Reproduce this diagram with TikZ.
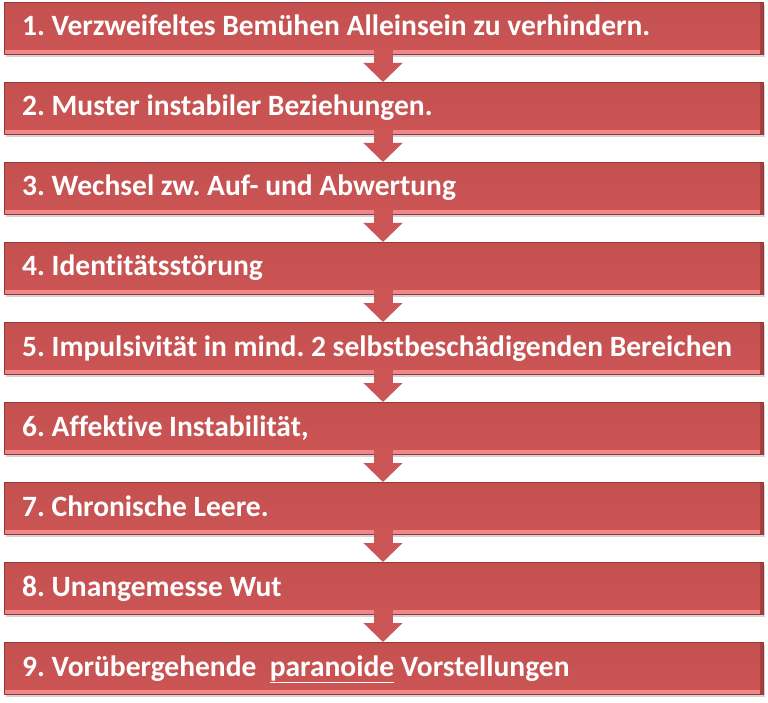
\documentclass[tikz,border=0pt]{standalone}
\usepackage{fontspec}
\setmainfont[Ligatures=NoCommon]{Carlito}
\usepackage{tikz}
\usetikzlibrary{arrows.meta,shadows}

\definecolor{barred}{RGB}{204,85,85}
\definecolor{bartop}{RGB}{196,80,80}
\definecolor{barlight}{RGB}{242,135,135}
\definecolor{bardark}{RGB}{150,55,55}

\begin{document}
\frenchspacing
\begin{tikzpicture}[x=1pt,y=-1pt]
   \useasboundingbox (0,0) rectangle (768,703);
   \tikzstyle{bar}=[rectangle, minimum width=759pt, minimum height=52pt, anchor=north west, inner sep=0pt,
      top color=bartop, bottom color=barred, draw=bardark, line width=0.6pt,
      drop shadow={shadow xshift=1.5pt, shadow yshift=-2.5pt, opacity=0.35},
      path picture={
        \fill[barlight] ([yshift=4pt]path picture bounding box.south west) rectangle (path picture bounding box.south east);
        \fill[bardark!70!barred] ([xshift=-3pt]path picture bounding box.north east) rectangle (path picture bounding box.south east);
      }]
   \tikzstyle{label}=[anchor=base west, text=white, font=\fontsize{29.5}{34}\selectfont\bfseries, inner sep=0pt]
   \tikzstyle{down}=[line width=19pt, draw=barred, -{Triangle[width=38pt,length=19pt]}, shorten <=-7pt]
   \foreach \i/\txt in {1/{1. Verzweifeltes Bemühen Alleinsein zu verhindern.},
                        2/{2. Muster instabiler Beziehungen.},
                        3/{3. Wechsel zw. Auf- und Abwertung},
                        4/{4. Identitätsstörung},
                        5/{5. Impulsivität in mind. 2 selbstbeschädigenden Bereichen},
                        6/{6. Affektive Instabilität,},
                        7/{7. Chronische Leere.},
                        8/{8. Unangemesse Wut},
                        9/{9. Vorübergehende\ \ \underline{paranoide} Vorstellungen}} {
       \node[bar] (bar\i) at (4,{2+80*(\i-1)}) {};
       \node[label] (txt\i) at (22,{2+80*(\i-1)+34}) {\txt};
   }
   \foreach \i [evaluate=\i as \j using int(\i+1)] in {1,...,8} {
       \path (bar\i.south -| 383,0) coordinate (from\i);
       \path (bar\j.north -| 383,0) coordinate (to\i);
       \draw[down] (from\i) -- (to\i);
   }
\end{tikzpicture}
\end{document}
